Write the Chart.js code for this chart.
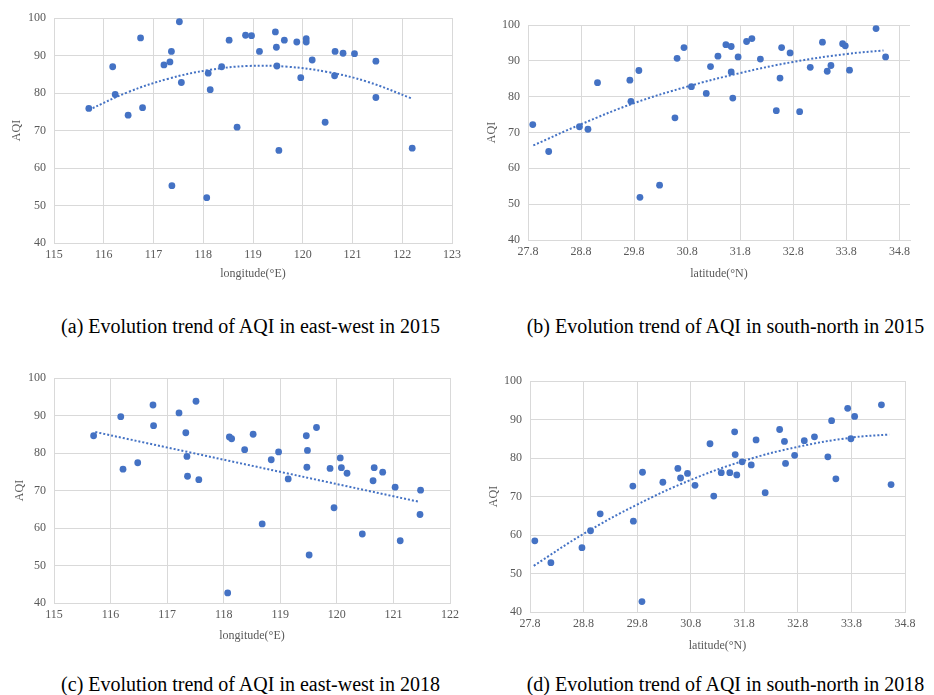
<!DOCTYPE html>
<html>
<head>
<meta charset="utf-8">
<script src="https://cdn.jsdelivr.net/npm/chart.js@4.4.1/dist/chart.umd.min.js"></script>
<style>
  body { margin: 0; background: #fff; width: 934px; height: 695px; position: relative; overflow: hidden; font-family: "Liberation Serif", "Times New Roman", serif; }
  canvas { position: absolute; }
  .cap { position: absolute; width: 467px; text-align: center; font-size: 20px; line-height: 22px; color: #000; white-space: nowrap; }
</style>
</head>
<body>
<canvas id="chartA" width="467" height="300" style="left:0;top:0"></canvas>
<canvas id="chartB" width="467" height="300" style="left:467px;top:0"></canvas>
<canvas id="chartC" width="467" height="305" style="left:0;top:355px"></canvas>
<canvas id="chartD" width="467" height="305" style="left:467px;top:355px"></canvas>

<div class="cap" style="left:17px;top:315px">(a) Evolution trend of AQI in east-west in 2015</div>
<div class="cap" style="left:492px;top:315px">(b) Evolution trend of AQI in south-north in 2015</div>
<div class="cap" style="left:17px;top:673px">(c) Evolution trend of AQI in east-west in 2018</div>
<div class="cap" style="left:492px;top:673px">(d) Evolution trend of AQI in south-north in 2018</div>

<script>
// tick labels
var aqiTicks = [40, 50, 60, 70, 80, 90, 100];
var lonTicks2015 = [115, 116, 117, 118, 119, 120, 121, 122, 123];
var lonTicks2018 = [115, 116, 117, 118, 119, 120, 121, 122];
var latTicks = [27.8, 28.8, 29.8, 30.8, 31.8, 32.8, 33.8, 34.8];

// (a) 2015 east-west
var lon2015 = [115.70, 116.18, 116.23, 116.49, 116.74, 116.78, 117.21, 117.33, 117.36, 117.37,
               117.52, 117.56, 118.07, 118.10, 118.14, 118.37, 118.52, 118.68, 118.85, 118.97,
               119.13, 119.45, 119.47, 119.48, 119.52, 119.63, 119.88, 119.96, 120.07, 120.07,
               120.19, 120.45, 120.65, 120.64, 120.81, 121.04, 121.47, 121.47, 122.20];
var aqiLon2015 = [75.9, 87.0, 79.6, 74.1, 94.7, 76.1, 87.5, 88.3, 91.1, 55.3,
                  99.0, 82.8, 52.1, 85.3, 80.9, 87.0, 94.1, 70.9, 95.4, 95.3,
                  91.1, 96.3, 92.2, 87.2, 64.7, 94.1, 93.6, 84.1, 94.5, 93.6,
                  88.8, 72.2, 91.1, 84.6, 90.6, 90.5, 88.5, 78.8, 65.3];
var trendLonX2015 = [115.7, 116.5, 117.3, 118.1, 118.9, 119.7, 120.5, 121.3, 122.2];
var trendLonY2015 = [75.5, 80.3, 83.8, 86.1, 87.2, 87.0, 85.6, 83.0, 78.5];

// (b) 2015 south-north
var lat2015 = [27.89, 28.19, 28.77, 28.93, 29.11, 29.72, 29.74, 29.89, 29.91, 30.28,
               30.57, 30.61, 30.74, 30.88, 31.16, 31.24, 31.38, 31.53, 31.63, 31.63,
               31.66, 31.76, 31.92, 32.02, 32.18, 32.48, 32.55, 32.58, 32.74, 32.92,
               33.12, 33.35, 33.44, 33.51, 33.73, 33.78, 33.86, 34.36, 34.54];
var aqiLat2015 = [72.2, 64.7, 71.6, 70.9, 83.9, 84.6, 78.7, 87.3, 51.9, 55.3,
                  74.1, 90.7, 93.7, 82.8, 80.9, 88.4, 91.3, 94.5, 94.0, 86.9,
                  79.6, 91.1, 95.4, 96.2, 90.5, 76.1, 85.2, 93.7, 92.2, 75.8,
                  88.2, 95.2, 87.1, 88.7, 94.8, 94.2, 87.4, 99.0, 91.1];
var trendLatX2015 = [27.9, 28.8, 29.8, 30.8, 31.8, 32.8, 33.8, 34.5];
var trendLatY2015 = [66.4, 72.3, 78.2, 82.8, 86.6, 89.7, 91.9, 92.9];

// (c) 2018 east-west
var lon2018 = [115.70, 116.18, 116.22, 116.48, 116.75, 116.76, 117.21, 117.33, 117.35, 117.36,
               117.51, 117.56, 118.07, 118.10, 118.14, 118.37, 118.52, 118.68, 118.84, 118.97,
               119.14, 119.46, 119.48, 119.47, 119.51, 119.64, 119.88, 119.95, 120.06, 120.08,
               120.18, 120.45, 120.66, 120.64, 120.81, 121.03, 121.12, 121.48, 121.47];
var aqiLon2018 = [84.6, 89.7, 75.7, 77.4, 92.8, 87.3, 90.7, 85.4, 79.1, 73.8,
                  93.8, 72.9, 42.7, 84.3, 83.8, 80.9, 85.0, 61.1, 78.2, 80.3,
                  73.1, 84.6, 80.7, 76.2, 52.8, 86.8, 75.9, 65.4, 78.7, 76.1,
                  74.6, 58.4, 76.1, 72.6, 74.9, 70.9, 56.6, 70.1, 63.6];
var trendLonX2018 = [115.73, 121.45];
var trendLonY2018 = [85.6, 67.0];

// (d) 2018 south-north
var lat2018 = [27.89, 28.19, 28.77, 28.93, 29.11, 29.72, 29.73, 29.90, 29.89, 30.28,
               30.56, 30.61, 30.74, 30.88, 31.16, 31.23, 31.37, 31.53, 31.62, 31.63,
               31.66, 31.76, 31.93, 32.02, 32.19, 32.46, 32.55, 32.57, 32.74, 32.92,
               33.11, 33.36, 33.43, 33.51, 33.73, 33.79, 33.86, 34.36, 34.54];
var aqiLat2018 = [58.5, 52.8, 56.7, 61.1, 65.5, 72.7, 63.6, 76.3, 42.7, 73.7,
                  77.3, 74.8, 76.0, 72.9, 83.7, 70.1, 76.2, 76.2, 86.8, 80.9,
                  75.6, 79.0, 78.2, 84.7, 71.0, 87.4, 84.3, 78.6, 80.7, 84.5,
                  85.5, 80.3, 89.7, 74.6, 92.9, 85.0, 90.8, 93.8, 73.1];
var trendLatX2018 = [27.87, 28.8, 29.8, 30.8, 31.8, 32.8, 33.8, 34.51];
var trendLatY2018 = [52.0, 60.3, 67.9, 74.3, 79.3, 82.9, 85.3, 86.1];

var blue = '#4472C4';
var gridColor = '#d9d9d9';
var tickColor = '#595959';
var serif = '"Liberation Serif", "Times New Roman", serif';

function pairs(xs, ys) {
    return xs.map(function (x, i) { return { x: x, y: ys[i] }; });
}

function makeChart(id, xs, ys, tx, ty, xMin, xMax, xTicks, xTitle, box) {
    var canvas = document.getElementById(id);
    return new Chart(canvas, {
        type: 'scatter',
        data: {
            datasets: [{
                type: 'line',
                data: pairs(tx, ty),
                borderColor: blue,
                borderWidth: 2,
                borderDash: [2, 2],
                pointRadius: 0,
                tension: 0.4,
                fill: false,
                order: 0
            }, {
                data: pairs(xs, ys),
                backgroundColor: blue,
                borderWidth: 0,
                pointRadius: 3.4,
                order: 1
            }]
        },
        options: {
            responsive: false,
            animation: false,
            layout: {
                padding: { left: 0, right: canvas.width - box.r, top: box.t, bottom: 0 }
            },
            plugins: { legend: { display: false }, tooltip: { enabled: false } },
            scales: {
                x: {
                    type: 'linear',
                    min: xMin,
                    max: xMax,
                    afterBuildTicks: function (s) { s.ticks = xTicks.map(function (v) { return { value: v }; }); },
                    afterFit: function (s) { s.height = canvas.height - box.b; },
                    grid: { color: gridColor, drawTicks: false },
                    border: { color: gridColor },
                    ticks: {
                        padding: 5,
                        color: tickColor,
                        font: { family: serif, size: 12 },
                        callback: function (v) { return xMin < 100 ? v.toFixed(1) : v; }
                    },
                    title: {
                        display: true,
                        text: xTitle,
                        color: tickColor,
                        font: { family: serif, size: 12 },
                        padding: { top: 0, bottom: box.xt }
                    }
                },
                y: {
                    min: 40,
                    max: 100,
                    afterBuildTicks: function (s) { s.ticks = aqiTicks.map(function (v) { return { value: v }; }); },
                    afterFit: function (s) { s.width = box.l; },
                    grid: { color: gridColor, drawTicks: false },
                    border: { color: gridColor },
                    ticks: { padding: 8, color: tickColor, font: { family: serif, size: 12 } },
                    title: {
                        display: true,
                        text: 'AQI',
                        color: tickColor,
                        font: { family: serif, size: 12 },
                        padding: { top: box.yt, bottom: 0 }
                    }
                }
            }
        }
    });
}

makeChart('chartA', lon2015, aqiLon2015, trendLonX2015, trendLonY2015, 115, 123, lonTicks2015, 'longitude(\u00b0E)',
    { l: 54, r: 452, t: 18, b: 243, xt: 19, yt: 10 });
makeChart('chartB', lat2015, aqiLat2015, trendLatX2015, trendLatY2015, 27.8, 35.0, latTicks, 'latitude(\u00b0N)',
    { l: 61, r: 443, t: 25, b: 240, xt: 19, yt: 18 });
makeChart('chartC', lon2018, aqiLon2018, trendLonX2018, trendLonY2018, 115, 122, lonTicks2018, 'longitude(\u00b0E)',
    { l: 54, r: 450, t: 23, b: 248, xt: 17, yt: 13 });
makeChart('chartD', lat2018, aqiLat2018, trendLatX2018, trendLatY2018, 27.8, 34.8, latTicks, 'latitude(\u00b0N)',
    { l: 63, r: 438, t: 26, b: 257, xt: 7, yt: 20 });
</script>
</body>
</html>
